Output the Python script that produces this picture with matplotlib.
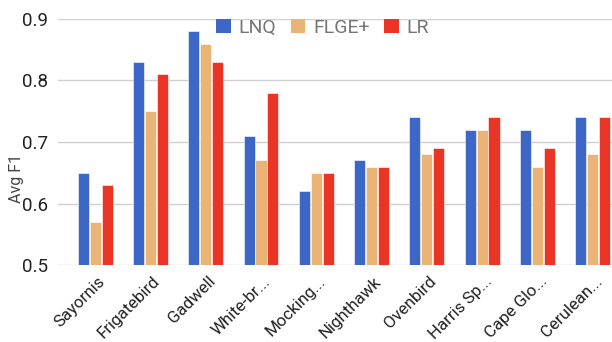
import matplotlib
matplotlib.use("Agg")
import matplotlib.pyplot as plt
import matplotlib.transforms as mtransforms
import numpy as np
from matplotlib.patches import Patch

categories = ["Sayornis", "Frigatebird", "Gadwell", "White-br...", "Mocking...",
              "Nighthawk", "Ovenbird", "Harris Sp...", "Cape Glo...", "Cerulean..."]
lnq = [0.65, 0.83, 0.88, 0.71, 0.62, 0.67, 0.74, 0.72, 0.72, 0.74]
flge = [0.57, 0.75, 0.86, 0.67, 0.65, 0.66, 0.68, 0.72, 0.66, 0.68]
lr = [0.63, 0.81, 0.83, 0.78, 0.65, 0.66, 0.69, 0.74, 0.69, 0.74]
series_names = ["LNQ", "FLGE+", "LR"]
yticks = [0.5, 0.6, 0.7, 0.8, 0.9]

colors = ["#3d67c7", "#ebb477", "#ea3526"]

plt.rcParams['font.family'] = ['Roboto', 'DejaVu Sans']

fig = plt.figure(figsize=(6.12, 3.42), dpi=100)
ax = fig.add_axes([0.095, 0.225, 0.905, 0.7195])

x = np.arange(len(categories))
w = 0.2
off = 0.215
for i, (vals, c) in enumerate(zip([lnq, flge, lr], colors)):
    ax.bar(x + (i - 1) * off, vals, width=w, color=c, edgecolor="white",
           linewidth=0.4, zorder=3)

ax.set_ylim(0.5, 0.9)
ax.set_xlim(-0.67, 9.35)
ax.set_yticks(yticks)
ax.set_yticklabels([f"{t:.1f}" for t in yticks])
ax.yaxis.grid(True, color="#d0d0d0", linewidth=1, zorder=0)
ax.set_axisbelow(True)
for s in ax.spines.values():
    s.set_visible(False)
ax.tick_params(axis="both", length=0, labelsize=13.5, colors="#222222")
ax.tick_params(axis="y", pad=7)
ax.set_xticks(x)
ax.set_xticklabels(categories, rotation=45, ha="right", va="center",
                   rotation_mode="anchor", fontsize=12.2)
ax.tick_params(axis="x", pad=10)
shift = mtransforms.ScaledTranslation(7 / 100, 0, fig.dpi_scale_trans)
for lab in ax.get_xticklabels():
    lab.set_transform(lab.get_transform() + shift)

ax.set_ylabel("Avg F1", fontsize=11.5, color="#444444")
ax.yaxis.set_label_coords(-0.062, 0.354)

handles = [Patch(facecolor=c, edgecolor="none") for c in colors]
leg = fig.legend(handles, series_names, loc="center", bbox_to_anchor=(0.527, 0.918),
                 ncol=3, frameon=False, fontsize=14, handlelength=0.75,
                 handleheight=0.75, handletextpad=0.4, columnspacing=0.75)
for t in leg.get_texts():
    t.set_color("#757575")

fig.savefig("out.png", dpi=100)
